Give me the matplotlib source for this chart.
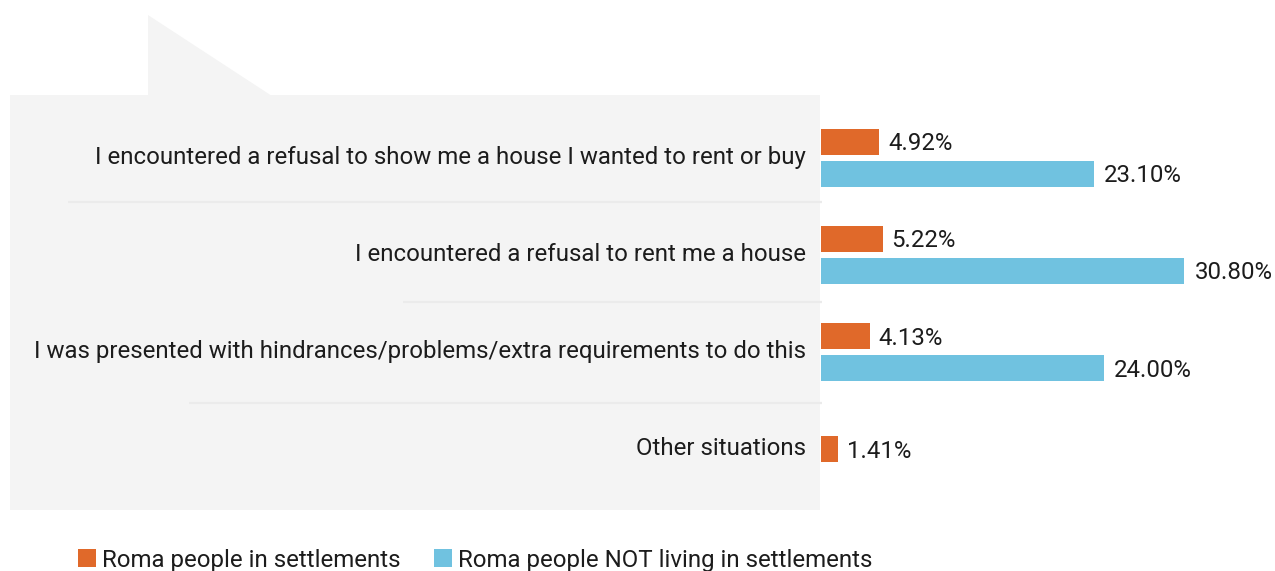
#!/usr/bin/env python3
"""
住宅差別に関する横棒グラフ（out.png に保存）
"""

import matplotlib
matplotlib.use('Agg')
import matplotlib.pyplot as plt
from matplotlib.patches import Rectangle, Polygon

plt.rcParams['font.family'] = ['Roboto', 'DejaVu Sans']

# データ
categories = [
    "I encountered a refusal to show me a house I wanted to rent or buy",
    "I encountered a refusal to rent me a house",
    "I was presented with hindrances/problems/extra requirements to do this",
    "Other situations",
]
in_settlements = [4.92, 5.22, 4.13, 1.41]
not_in_settlements = [23.10, 30.80, 24.00, None]
series_names = ["Roma people in settlements", "Roma people NOT living in settlements"]

ORANGE = '#e0692a'
BLUE = '#70c2e0'
PANEL = '#f4f4f4'
SEP = '#ebebeb'
TXT = '#1c1c1c'
FS = 17.3

W, H = 1275, 571
fig = plt.figure(figsize=(W / 100, H / 100), dpi=100)

# 背景（吹き出し風パネル）
bg = fig.add_axes([0, 0, 1, 1])
bg.set_xlim(0, W)
bg.set_ylim(H, 0)
bg.axis('off')
bg.add_patch(Rectangle((10, 95), 810, 415, facecolor=PANEL, edgecolor='none'))
bg.add_patch(Polygon([(148, 15), (148, 96), (272, 96)], closed=True, facecolor=PANEL, edgecolor='none'))

# 区切り線（x開始位置, y）
separators = [(68, 202), (403, 302), (189, 403)]
for x0, yk in separators:
    bg.plot([x0, 822], [yk, yk], color=SEP, lw=1.6, solid_capstyle='butt')

# バー領域
top, bottom = 109, 498
slot = (bottom - top) / len(categories)
x_left = 821
px_per_pct = 11.8
ax = fig.add_axes([x_left / W, 1 - bottom / H, (W - x_left) / W, (bottom - top) / H])
ax.set_facecolor('none')
ax.set_xlim(0, (W - x_left) / px_per_pct)
ax.set_ylim(len(categories) - 0.5, -0.5)

bar_h = 26 / slot
off = 16 / slot
for i, (a, b) in enumerate(zip(in_settlements, not_in_settlements)):
    if b is None:
        ya = i
    else:
        ya = i - off
        ax.barh(i + off, b, height=bar_h, color=BLUE)
        ax.annotate(f"{b:.2f}%", (b, i + off + 0.02), xytext=(7.2, 0), textcoords='offset points',
                    va='center', ha='left', fontsize=FS, color=TXT)
    ax.barh(ya, a, height=bar_h, color=ORANGE)
    ax.annotate(f"{a:.2f}%", (a, ya + 0.02), xytext=(6.5, 0), textcoords='offset points',
                va='center', ha='left', fontsize=FS, color=TXT)

ax.set_yticks([i - 0.03 for i in range(len(categories))])
ax.set_yticklabels(categories, fontsize=FS, color=TXT)
ax.tick_params(axis='y', length=0, pad=10.8)
ax.set_xticks([])
for s in ax.spines.values():
    s.set_visible(False)

# 凡例
leg_x = [78, 434]
for x0, name, c in zip(leg_x, series_names, [ORANGE, BLUE]):
    bg.add_patch(Rectangle((x0, 549), 18, 18, facecolor=c, edgecolor='none'))
    bg.text(x0 + 24, 561, name, fontsize=FS, color=TXT, va='center', ha='left')

plt.savefig('out.png', dpi=100)
plt.close()
